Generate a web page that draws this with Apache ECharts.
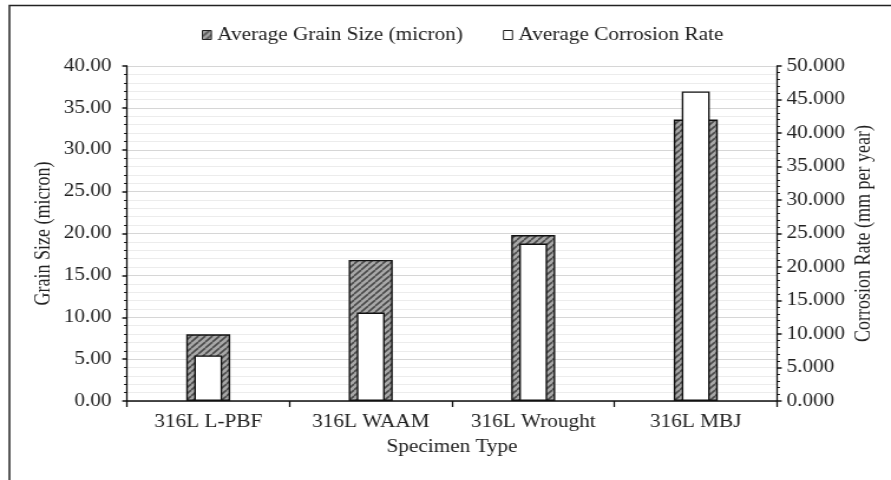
<!DOCTYPE html>
<html><head><meta charset="utf-8">
<script src="https://cdn.jsdelivr.net/npm/echarts@6/dist/echarts.min.js"></script>
<style>html,body{margin:0;padding:0;background:#fff;overflow:hidden}
#c{width:755px;height:480px;transform:scaleX(1.1801);transform-origin:0 0}</style>
</head><body><div id="c"></div>
<script>
const categories = ['316L L-PBF', '316L WAAM', '316L Wrought', '316L MBJ'];
const grainSize = [7.96, 16.84, 19.82, 33.6];
const corrosionRate = [6.8, 13.2, 23.5, 46.2];
const seriesNames = ['Average Grain Size (micron)', 'Average Corrosion Rate'];
const leftTicks = { min: 0, max: 40, interval: 5, decimals: 2 };
const rightTicks = { min: 0, max: 50, interval: 5, decimals: 3 };

function hatch() {
  const c = document.createElement('canvas');
  c.width = 6; c.height = 6;
  const g = c.getContext('2d');
  g.fillStyle = '#a8a8a8'; g.fillRect(0, 0, 6, 6);
  g.strokeStyle = '#4a4a4a'; g.lineWidth = 1.6;
  for (let k = -6; k <= 12; k += 6) {
    g.beginPath(); g.moveTo(k, 6); g.lineTo(k + 6, 0); g.stroke();
  }
  return c;
}
const pat = { image: hatch(), repeat: 'repeat' };
const font = 'Liberation Serif';
const fs = 18;
const chart = echarts.init(document.getElementById('c'), null, { renderer: 'canvas' });
chart.setOption({
  animation: false,
  backgroundColor: '#fff',
  textStyle: { fontFamily: font, color: '#222' },
  graphic: [{ type: 'rect', shape: { x: 8, y: 5.5, width: 1000, height: 1000 }, style: { fill: 'none', stroke: '#222', lineWidth: 1.5 }, silent: true }],
  legend: {
    top: 21, left: 166, itemWidth: 7.6, itemHeight: 9, itemGap: 34,
    textStyle: { fontFamily: font, fontSize: fs, color: '#222' },
    data: [
      { name: seriesNames[0], icon: 'rect', itemStyle: { color: pat, borderColor: '#222', borderWidth: 1 } },
      { name: seriesNames[1], icon: 'rect', itemStyle: { color: '#fff', borderColor: '#222', borderWidth: 1 } }
    ]
  },
  grid: { left: 107.6, right: 96.6, top: 66, bottom: 79 },
  xAxis: [
    { type: 'category', data: categories, name: 'Specimen Type', nameLocation: 'middle', nameGap: 37,
      nameMoveOverlap: false,
      nameTextStyle: { fontFamily: font, fontSize: fs, color: '#222' },
      axisLine: { lineStyle: { color: '#111', width: 1.5 } },
      axisTick: { show: true, length: 6, lineStyle: { color: '#111', width: 1.3 } },
      axisLabel: { fontFamily: font, fontSize: fs, color: '#222', margin: 12 } },
    { type: 'category', data: categories, show: false, position: 'bottom' }
  ],
  yAxis: [
    { type: 'value', min: leftTicks.min, max: leftTicks.max, interval: leftTicks.interval, position: 'left',
      name: 'Grain Size (micron)', nameLocation: 'middle', nameGap: 61, nameRotate: 90, nameMoveOverlap: false,
      nameTextStyle: { fontFamily: font, fontSize: fs, color: '#222' },
      axisLine: { show: true, lineStyle: { color: '#111', width: 1.3 } },
      axisTick: { show: true, length: 4, lineStyle: { color: '#111', width: 1.5 } },
      minorTick: { show: true, splitNumber: 5, length: 2.5, lineStyle: { color: '#111', width: 1 } },
      axisLabel: { fontFamily: font, fontSize: fs, color: '#222', margin: 13, formatter: v => v.toFixed(leftTicks.decimals) },
      splitLine: { show: true, lineStyle: { color: '#d6d6d6', width: 1 } },
      minorSplitLine: { show: true, lineStyle: { color: '#ececec', width: 1 } } },
    { type: 'value', min: rightTicks.min, max: rightTicks.max, interval: rightTicks.interval, position: 'right',
      name: 'Corrosion Rate (mm per year)', nameLocation: 'middle', nameGap: 65, nameRotate: 90, nameMoveOverlap: false,
      nameTextStyle: { fontFamily: font, fontSize: fs, color: '#222' },
      axisLine: { show: true, lineStyle: { color: '#111', width: 1.3 } },
      axisTick: { show: true, length: 4, lineStyle: { color: '#111', width: 1.5 } },
      minorTick: { show: true, splitNumber: 5, length: 2.5, lineStyle: { color: '#111', width: 1 } },
      axisLabel: { fontFamily: font, fontSize: fs, color: '#222', margin: 8, formatter: v => v.toFixed(rightTicks.decimals) },
      splitLine: { show: false } }
  ],
  series: [
    { name: seriesNames[0], type: 'bar', xAxisIndex: 0, yAxisIndex: 0, data: grainSize, barWidth: 37.3,
      itemStyle: { color: pat, borderColor: '#111', borderWidth: 1.4 } },
    { name: seriesNames[1], type: 'bar', xAxisIndex: 1, yAxisIndex: 1, data: corrosionRate, barWidth: 23.7,
      itemStyle: { color: '#fff', borderColor: '#111', borderWidth: 1.4 } }
  ]
});
</script></body></html>
